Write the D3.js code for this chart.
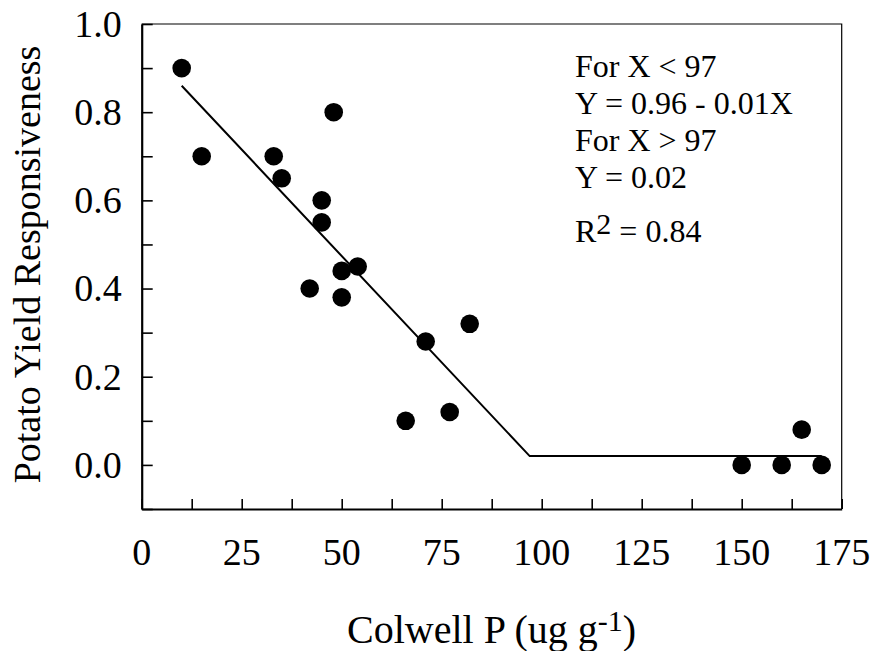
<!DOCTYPE html>
<html>
<head>
<meta charset="utf-8">
<script src="https://cdn.jsdelivr.net/npm/d3@7"></script>
<style>
  body { margin: 0; background: #fff; }
  text { font-family: "Liberation Serif", "Times New Roman", serif; fill: #000; }
</style>
</head>
<body>
<svg id="chart" width="872" height="651"></svg>
<script>
// donnees
var colwellP = [10, 15, 33, 35, 48, 45, 45, 42, 50, 50, 54, 66, 71, 77, 82, 150, 160, 165, 170];
var responsiveness = [0.90, 0.70, 0.70, 0.65, 0.80, 0.60, 0.55, 0.40, 0.44, 0.38, 0.45, 0.10, 0.28, 0.12, 0.32, 0.00, 0.00, 0.08, 0.00];

// modele segmente
var fitX = [10, 97, 170];
var fitY = [0.86, 0.02, 0.02];

var xTicks = [0, 12.5, 25, 37.5, 50, 62.5, 75, 87.5, 100, 112.5, 125, 137.5, 150, 162.5, 175];
var xLabels = [0, 25, 50, 75, 100, 125, 150, 175];
var yTicks = [-0.1, 0, 0.1, 0.2, 0.3, 0.4, 0.5, 0.6, 0.7, 0.8, 0.9, 1.0];
var yLabels = [0, 0.2, 0.4, 0.6, 0.8, 1.0];

var annotations = ["For X < 97", "Y = 0.96 - 0.01X", "For X > 97", "Y = 0.02"];

var svg = d3.select("#chart");
var mLeft = 141.7, mRight = 841.7, mTop = 24, mBottom = 509;

var x = d3.scaleLinear().domain([0, 175]).range([mLeft, mRight]);
var y = d3.scaleLinear().domain([-0.1, 1.0]).range([mBottom, mTop]);

// cadre haut et droit
svg.append("path")
  .attr("d", "M" + mLeft + "," + mTop + "H" + mRight + "V" + mBottom)
  .attr("fill", "none").attr("stroke", "#000").attr("stroke-width", 1.2);

// axe X
var gx = svg.append("g").attr("transform", "translate(0," + mBottom + ")")
  .call(d3.axisBottom(x).tickValues(xTicks).tickSizeInner(-10).tickSizeOuter(0).tickFormat(""));
gx.select(".domain").attr("stroke-width", 2.2);
gx.selectAll(".tick line").attr("stroke-width", 1.6);
svg.append("g").selectAll("text").data(xLabels).enter().append("text")
  .attr("x", function(d){ return x(d); })
  .attr("y", 565)
  .attr("text-anchor", "middle")
  .style("font-size", "38px")
  .text(function(d){ return d; });

// axe Y
var gy = svg.append("g").attr("transform", "translate(" + mLeft + ",0)")
  .call(d3.axisLeft(y).tickValues(yTicks).tickSizeInner(-11).tickSizeOuter(0).tickFormat(""));
gy.select(".domain").attr("stroke-width", 2.2);
gy.selectAll(".tick line").attr("stroke-width", 1.6);
svg.append("g").selectAll("text").data(yLabels).enter().append("text")
  .attr("x", mLeft - 20)
  .attr("y", function(d){ return y(d); })
  .attr("dy", "0.34em")
  .attr("text-anchor", "end")
  .style("font-size", "38px")
  .text(function(d){ return d3.format(".1f")(d); });

// titres
svg.append("text")
  .attr("transform", "translate(40," + ((mTop + mBottom) / 2 - 2) + ") rotate(-90)")
  .attr("text-anchor", "middle")
  .style("font-size", "38px")
  .text("Potato Yield Responsiveness");

var xt = svg.append("text").attr("x", 347).attr("y", 643).style("font-size", "40px");
xt.append("tspan").text("Colwell P (ug g");
xt.append("tspan").attr("dy", -12).style("font-size", "30px").text("-1");
xt.append("tspan").attr("dy", 12).text(")");

// droite ajustee
var line = d3.line().x(function(d){ return x(d[0]); }).y(function(d){ return y(d[1]); });
svg.append("path")
  .datum(d3.zip(fitX, fitY))
  .attr("d", line)
  .attr("fill", "none").attr("stroke", "#000").attr("stroke-width", 2);

// points
svg.append("g").selectAll("circle")
  .data(d3.zip(colwellP, responsiveness)).enter()
  .append("circle")
  .attr("cx", function(d){ return x(d[0]); })
  .attr("cy", function(d){ return y(d[1]); })
  .attr("r", 9.3)
  .attr("fill", "#000");

// equation
svg.append("g").selectAll("text").data(annotations).enter().append("text")
  .attr("x", 575)
  .attr("y", function(d, i){ return 77.3 + i * 37; })
  .style("font-size", "32px")
  .text(function(d){ return d; });
var r2 = svg.append("text").attr("x", 575).attr("y", 241.7).style("font-size", "32px");
r2.append("tspan").text("R");
r2.append("tspan").attr("dy", -8).style("font-size", "30px").text("2");
r2.append("tspan").attr("dy", 8).text(" = 0.84");
</script>
</body>
</html>
